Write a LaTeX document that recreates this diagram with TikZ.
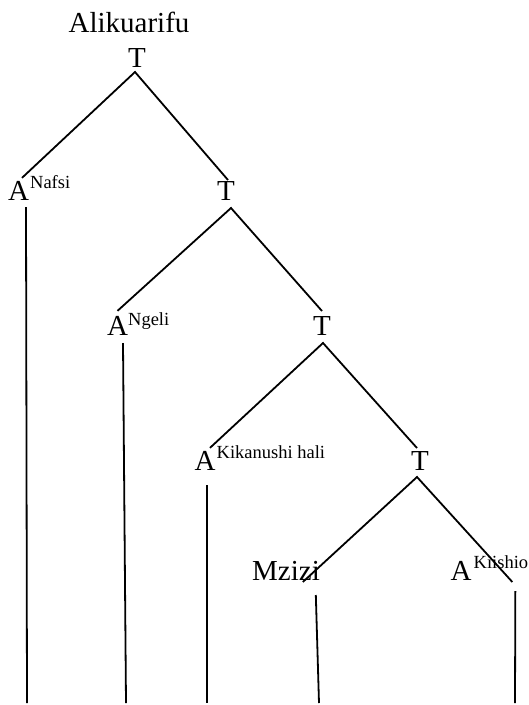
\documentclass[tikz,border=0pt]{standalone}
\usepackage{fontspec}
\setmainfont{Liberation Serif}
\tikzset{big/.style={inner sep=0pt, outer xsep=0pt, outer ysep=5pt,
    font=\fontsize{29}{30}\selectfont, anchor=base},
    sup/.style={inner sep=0pt, font=\fontsize{18.5}{20}\selectfont, anchor=base west},
    branch/.style={line width=1.8pt},
    }

\begin{document}
\begin{tikzpicture}[x=1pt,y=-1pt]
\useasboundingbox (0,0) rectangle (529,705);
% labels
\node[big] (title) at (129,32) {Alikuarifu};
\node[big] (t1) at (137,67) {T};
\node[big] (a1) at (18.5,200) {A};
\node[sup] (a1s) at ([shift={(1pt,12pt)}]a1.base east) {Nafsi};
\node[big] (t2) at (226,200) {T};
\node[big] (a2) at (117.5,335) {A};
\node[sup] (a2s) at ([shift={(0pt,10pt)}]a2.base east) {Ngeli};
\node[big] (t3) at (322,335) {T};
\node[big] (a3) at (205,470) {A};
\node[sup] (a3s) at ([shift={(1pt,12pt)}]a3.base east) {Kikanushi hali};
\node[big] (t4) at (420,470) {T};
\node[big] (mzizi) at (286,580) {Mzizi};
\node[big] (a4) at (461,580) {A};
\node[sup] (a4s) at ([shift={(2pt,12pt)}]a4.base east) {Kiishio};
% bottom ends
\coordinate (b1) at (27,703);
\coordinate (b2) at (126,703);
\coordinate (b3) at (207,703);
\coordinate (b4) at (319,703);
\coordinate (b5) at (515,703);
% branches
\draw[branch] ([xshift=3.5pt,yshift=-2pt]a1.north) -- ([xshift=-2pt]t1.south)
    -- ([xshift=2pt,yshift=-4pt]t2.north);%t1
\draw[branch] (a2.north) -- ([xshift=5pt,yshift=-3pt]t2.south)
    -- (t3.north);%t2
\draw[branch] ([xshift=5pt,yshift=-2pt]a3.north) -- ([xshift=1pt,yshift=-3pt]t3.south)
    -- ([xshift=-3pt,yshift=-2pt]t4.north);%t3
\draw[branch] ([shift={(-17pt,-2pt)}]mzizi.base east) -- ([xshift=-3pt,yshift=-2pt]t4.south)
    -- ([shift={(-16pt,-14pt)}]a4s.base east);%t4
% stems
\draw[branch] ([xshift=7.5pt,yshift=-2pt]a1.south) -- (b1);
\draw[branch] ([xshift=5.5pt,yshift=-3pt]a2.south) -- (b2);
\draw[branch] ([xshift=2pt,yshift=-10pt]a3.south) -- (b3);
\draw[branch] ([shift={(-4pt,-15pt)}]mzizi.base east) -- (b4);
\draw[branch] ([shift={(-13pt,-23pt)}]a4s.base east) -- (b5);
\end{tikzpicture}
\end{document}
